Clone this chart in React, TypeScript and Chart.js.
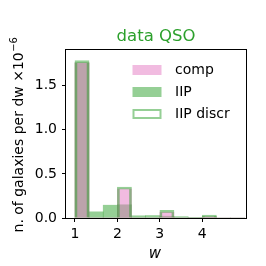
import React, { useEffect, useRef } from 'react';
import { Chart, registerables } from 'chart.js';

Chart.register(...registerables);

// histogram bins (left edges, width 1/3)
const binStarts = [1, 4 / 3, 5 / 3, 2, 7 / 3, 8 / 3, 3, 10 / 3, 11 / 3, 4, 13 / 3, 14 / 3];
const binWidth = 1 / 3;
const compValues = [1.76, 0, 0, 0.33, 0, 0, 0.066, 0, 0, 0.012, 0, 0];
const iipValues = [1.76, 0.07, 0.145, 0.15, 0.025, 0.028, 0.02, 0.015, 0.004, 0.018, 0, 0];
const iipDiscrValues = [1.785, 0, 0, 0.352, 0, 0, 0.086, 0, 0, 0.034, 0, 0];
const xTicks = [1, 2, 3, 4];
const yTicks = [0, 0.5, 1.0, 1.5];
const yTickLabels = ['0.0', '0.5', '1.0', '1.5'];
const legendLabels = ['comp', 'IIP', 'IIP discr'];
const titleText = 'data QSO';
const yLabelMain = 'n. of galaxies per dw \u00d710';
const yLabelExp = '\u22126';
const xLabelText = 'w';

const FONT = '"DejaVu Sans", sans-serif';
const PINK = 'rgba(227,119,194,0.5)';
const GREEN = 'rgba(44,160,44,0.5)';
const GREEN_SOLID = 'rgb(44,160,44)';

const toPoints = (vals: number[], skipZero: boolean) =>
  vals.map((v, i) => ({ x: binStarts[i] + binWidth / 2, y: skipZero && v === 0 ? null : v }));

const decorPlugin = {
  id: 'decor',
  afterDatasetsDraw(chart: any) {
    const { ctx, chartArea } = chart;
    const { left, right, top, bottom } = chartArea;
    ctx.save();
    ctx.strokeStyle = '#000';
    ctx.lineWidth = 1;
    ctx.strokeRect(left - 0.5, top - 0.5, right - left + 1, bottom - top + 1);
    ctx.restore();
  },
  afterDraw(chart: any) {
    const { ctx, chartArea } = chart;
    const { left, right, top, bottom } = chartArea;
    const cx = (left + right) / 2;
    ctx.save();
    // title
    ctx.fillStyle = GREEN_SOLID;
    ctx.font = `16.5px ${FONT}`;
    ctx.textAlign = 'center';
    ctx.textBaseline = 'alphabetic';
    ctx.fillText(titleText, cx, 40.5);
    // x label
    ctx.fillStyle = '#000';
    ctx.font = `italic 15px ${FONT}`;
    ctx.fillText(xLabelText, cx - 1, 258);
    // y label
    ctx.save();
    ctx.translate(23, (top + bottom) / 2 + 1);
    ctx.rotate(-Math.PI / 2);
    ctx.textAlign = 'left';
    ctx.font = `14px ${FONT}`;
    const w1 = ctx.measureText(yLabelMain).width;
    ctx.font = `10px ${FONT}`;
    const w2 = ctx.measureText(yLabelExp).width;
    const start = -(w1 + w2) / 2;
    ctx.font = `14px ${FONT}`;
    ctx.fillText(yLabelMain, start, 0);
    ctx.font = `10px ${FONT}`;
    ctx.fillText(yLabelExp, start + w1 + 0.5, -6);
    ctx.restore();
    // legend
    const rows = [70, 92, 114];
    const px = 132.5;
    const pw = 29;
    const ph = 10;
    ctx.font = `14px ${FONT}`;
    ctx.textAlign = 'left';
    ctx.textBaseline = 'middle';
    rows.forEach((ry, i) => {
      if (i === 0) {
        ctx.fillStyle = PINK;
        ctx.fillRect(px, ry - ph / 2, pw, ph);
      } else if (i === 1) {
        ctx.fillStyle = GREEN;
        ctx.fillRect(px, ry - ph / 2, pw, ph);
      } else {
        ctx.strokeStyle = GREEN;
        ctx.lineWidth = 2;
        ctx.strokeRect(px + 1, ry - ph / 2 + 1, pw - 2, ph - 2);
      }
      ctx.fillStyle = '#000';
      ctx.fillText(legendLabels[i], 175, ry + 0.5);
    });
    ctx.restore();
  },
};

export default function App() {
  const ref = useRef<HTMLCanvasElement | null>(null);
  useEffect(() => {
    document.body.style.margin = '0';
    if (!ref.current) return;
    const chart = new Chart(ref.current, {
      type: 'bar',
      data: {
        datasets: [
          {
            label: legendLabels[0],
            data: toPoints(compValues, false) as any,
            backgroundColor: PINK,
            borderWidth: 0,
            grouped: false,
            barPercentage: 1,
            categoryPercentage: 1,
            order: 2,
          },
          {
            label: legendLabels[1],
            data: toPoints(iipValues, false) as any,
            backgroundColor: GREEN,
            borderWidth: 0,
            grouped: false,
            barPercentage: 1,
            categoryPercentage: 1,
            order: 3,
          },
          {
            label: legendLabels[2],
            data: toPoints(iipDiscrValues, true) as any,
            backgroundColor: 'rgba(0,0,0,0)',
            borderColor: GREEN,
            borderWidth: 2,
            borderSkipped: 'start',
            grouped: false,
            barPercentage: 1,
            categoryPercentage: 1,
            order: 1,
          },
        ] as any,
      },
      options: {
        responsive: false,
        animation: false,
        devicePixelRatio: 1,
        layout: { padding: { left: 0, top: 50, right: 20, bottom: 0 } },
        plugins: { legend: { display: false }, tooltip: { enabled: false }, title: { display: false } },
        scales: {
          x: {
            type: 'linear',
            min: 0.79,
            max: 5.03,
            offset: false,
            grid: { display: true, drawOnChartArea: false, drawTicks: true, tickLength: 4, tickColor: '#000', tickWidth: 1, offset: false },
            border: { display: false },
            afterBuildTicks: (scale: any) => {
              scale.ticks = xTicks.map((v) => ({ value: v }));
            },
            afterFit: (scale: any) => {
              scale.height = 48;
            },
            ticks: {
              color: '#000',
              font: { family: FONT, size: 14 },
              padding: 4,
              maxRotation: 0,
              callback: (v: any) => String(v),
            },
          },
          y: {
            type: 'linear',
            min: 0,
            max: 1.905,
            grid: { display: true, drawOnChartArea: false, drawTicks: true, tickLength: 4, tickColor: '#000', tickWidth: 1 },
            border: { display: false },
            afterBuildTicks: (scale: any) => {
              scale.ticks = yTicks.map((v) => ({ value: v }));
            },
            afterFit: (scale: any) => {
              scale.width = 66;
            },
            ticks: {
              color: '#000',
              font: { family: FONT, size: 14 },
              padding: 5,
              callback: (v: any) => {
                const i = yTicks.findIndex((t) => Math.abs(t - v) < 1e-9);
                return i >= 0 ? yTickLabels[i] : '';
              },
            },
          },
        },
      } as any,
      plugins: [decorPlugin],
    });
    return () => chart.destroy();
  }, []);
  return (
    <div style={{ width: 266, height: 266, background: '#fff' }}>
      <canvas ref={ref} width={266} height={266} />
    </div>
  );
}
